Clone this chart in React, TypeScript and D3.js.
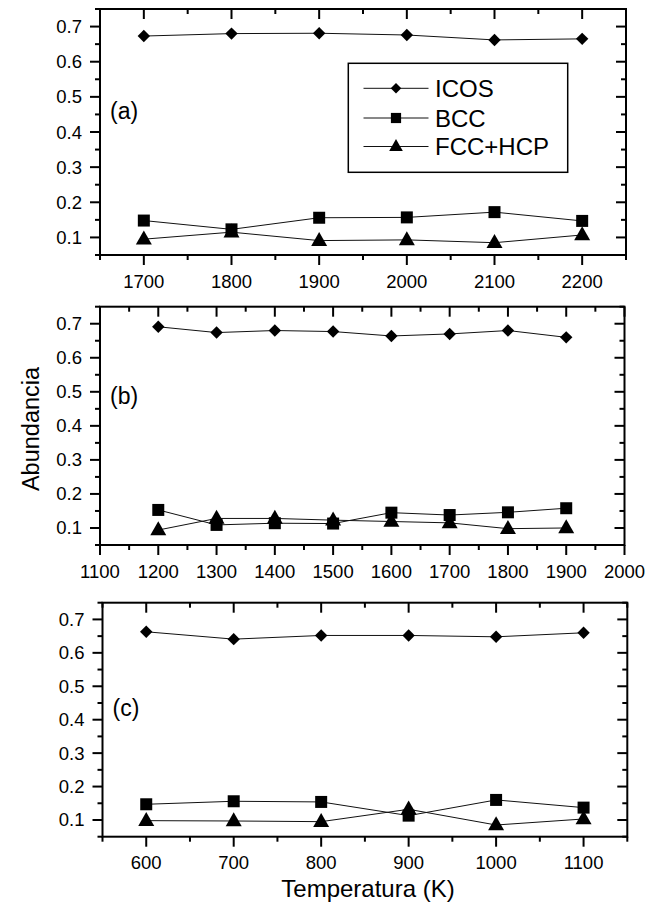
import React from 'react';
import * as d3 from 'd3';

// ---------- data ----------
const seriesNames = ['ICOS', 'BCC', 'FCC+HCP'];

const tempsA = [1700, 1800, 1900, 2000, 2100, 2200];
const icosA = [0.673, 0.680, 0.681, 0.676, 0.662, 0.665];
const bccA = [0.148, 0.123, 0.156, 0.157, 0.172, 0.147];
const fccA = [0.095, 0.115, 0.091, 0.093, 0.085, 0.107];

const tempsB = [1200, 1300, 1400, 1500, 1600, 1700, 1800, 1900];
const icosB = [0.691, 0.674, 0.680, 0.677, 0.664, 0.670, 0.680, 0.660];
const bccB = [0.153, 0.109, 0.114, 0.113, 0.145, 0.138, 0.146, 0.158];
const fccB = [0.094, 0.128, 0.128, 0.123, 0.119, 0.115, 0.098, 0.100];

const tempsC = [600, 700, 800, 900, 1000, 1100];
const icosC = [0.663, 0.641, 0.652, 0.652, 0.648, 0.660];
const bccC = [0.147, 0.156, 0.154, 0.113, 0.160, 0.137];
const fccC = [0.098, 0.097, 0.095, 0.132, 0.085, 0.103];

const xDomainA = [1650, 2250];
const xTicksA = [1700, 1800, 1900, 2000, 2100, 2200];
const xDomainB = [1100, 2000];
const xTicksB = [1100, 1200, 1300, 1400, 1500, 1600, 1700, 1800, 1900, 2000];
const xDomainC = [550, 1150];
const xTicksC = [600, 700, 800, 900, 1000, 1100];
const yDomain = [0.05, 0.75];
const yTicks = [0.1, 0.2, 0.3, 0.4, 0.5, 0.6, 0.7];

const panelLabels = ['(a)', '(b)', '(c)'];
const yTitle = 'Abundancia';
const xTitle = 'Temperatura (K)';

// ---------- layout ----------
const W = 647;
const H = 903;
const FONT = '"Liberation Sans", Arial, Helvetica, sans-serif';

const panels = [
  { left: 100, right: 626, top: 9, bottom: 255, xDomain: xDomainA, xTicks: xTicksA, temps: tempsA, series: [icosA, bccA, fccA], label: panelLabels[0], labelY: 118.5 },
  { left: 100, right: 624.5, top: 306.7, bottom: 545, xDomain: xDomainB, xTicks: xTicksB, temps: tempsB, series: [icosB, bccB, fccB], label: panelLabels[1], labelY: 403.5 },
  { left: 102.5, right: 627.3, top: 602.7, bottom: 836.7, xDomain: xDomainC, xTicks: xTicksC, temps: tempsC, series: [icosC, bccC, fccC], label: panelLabels[2], labelY: 715.5 },
];

const markerTypes = ['diamond', 'square', 'triangle'];

function markerPath(type: string, scale: number) {
  if (type === 'diamond') {
    const r = 6.2 * scale;
    return `M0,${-r}L${r},0L0,${r}L${-r},0Z`;
  }
  if (type === 'square') {
    const h = 6 * scale;
    return `M${-h},${-h}H${h}V${h}H${-h}Z`;
  }
  const w = 8 * scale;
  const ht = 14 * scale;
  const top = -0.62 * ht;
  const bot = 0.38 * ht;
  return `M0,${top}L${w},${bot}L${-w},${bot}Z`;
}

function Panel({ p }: { p: any }) {
  const x = d3.scaleLinear().domain(p.xDomain).range([p.left, p.right]);
  const y = d3.scaleLinear().domain(yDomain).range([p.bottom, p.top]);
  const xStep = p.xTicks[1] - p.xTicks[0];
  const xMinor = d3.range(p.xDomain[0], p.xDomain[1] + 1e-6, xStep / 2).filter(
    (v) => !p.xTicks.some((t: number) => Math.abs(t - v) < 1e-6)
  );
  const yMinor = d3.range(0, 15).map((i) => yDomain[0] + i * 0.05).filter(
    (v) => !yTicks.some((t) => Math.abs(t - v) < 1e-6) && v <= yDomain[1] + 1e-6
  );
  const line = d3
    .line<number>()
    .x((_, i) => x(p.temps[i]))
    .y((d) => y(d));
  const MAJ = 10;
  const MIN = 5;
  const tk = { stroke: '#000', strokeWidth: 2 };
  return (
    <g>
      {/* data lines */}
      {p.series.map((s: number[], si: number) => (
        <path key={'l' + si} d={line(s) || ''} fill="none" stroke="#111" strokeWidth={1} />
      ))}
      {/* markers */}
      {p.series.map((s: number[], si: number) =>
        s.map((v, i) => (
          <path
            key={'m' + si + '-' + i}
            d={markerPath(markerTypes[si], 1)}
            transform={`translate(${x(p.temps[i])},${y(v)})`}
            fill="#000"
          />
        ))
      )}
      {/* frame */}
      <rect x={p.left} y={p.top} width={p.right - p.left} height={p.bottom - p.top} fill="none" stroke="#000" strokeWidth={2} />
      {/* x ticks bottom (out) and top (in) */}
      {p.xTicks.map((t: number) => (
        <g key={'xt' + t}>
          <line x1={x(t)} x2={x(t)} y1={p.bottom} y2={p.bottom + MAJ} {...tk} />
          <line x1={x(t)} x2={x(t)} y1={p.top} y2={p.top + MAJ} {...tk} />
          <text x={x(t)} y={p.bottom + 32.5} textAnchor="middle" fontSize={18.5} fontFamily={FONT}>
            {t}
          </text>
        </g>
      ))}
      {xMinor.map((t: number) => (
        <g key={'xm' + t}>
          <line x1={x(t)} x2={x(t)} y1={p.bottom} y2={p.bottom + MIN} {...tk} />
          <line x1={x(t)} x2={x(t)} y1={p.top} y2={p.top + MIN} {...tk} />
        </g>
      ))}
      {/* y ticks left (out) and right (in) */}
      {yTicks.map((t) => (
        <g key={'yt' + t}>
          <line x1={p.left - MAJ} x2={p.left} y1={y(t)} y2={y(t)} {...tk} />
          <line x1={p.right - MAJ} x2={p.right} y1={y(t)} y2={y(t)} {...tk} />
          <text x={p.left - 18} y={y(t) + 6.5} textAnchor="end" fontSize={18.5} fontFamily={FONT}>
            {d3.format('.1f')(t)}
          </text>
        </g>
      ))}
      {yMinor.map((t) => (
        <g key={'ym' + t}>
          <line x1={p.left - MIN} x2={p.left} y1={y(t)} y2={y(t)} {...tk} />
          <line x1={p.right - MIN} x2={p.right} y1={y(t)} y2={y(t)} {...tk} />
        </g>
      ))}
      <text x={p.left + 10} y={p.labelY} fontSize={23} fontFamily={FONT}>
        {p.label}
      </text>
    </g>
  );
}

function Legend() {
  const lx = 348.3;
  const ly = 63.3;
  const lw = 219.4;
  const lh = 109;
  const rows = [88.3, 118, 146.5];
  return (
    <g>
      <rect x={lx} y={ly} width={lw} height={lh} fill="#fff" stroke="#000" strokeWidth={1.5} />
      {seriesNames.map((n, i) => (
        <g key={n}>
          <line x1={363.5} x2={428.5} y1={rows[i]} y2={rows[i]} stroke="#111" strokeWidth={1} />
          <path d={markerPath(markerTypes[i], 0.85)} transform={`translate(396,${rows[i]})`} fill="#000" />
          <text x={435} y={rows[i] + 8.5} fontSize={24} fontFamily={FONT}>
            {n}
          </text>
        </g>
      ))}
    </g>
  );
}

export default function App() {
  return (
    <svg
      width={W}
      height={H}
      viewBox={`0 0 ${W} ${H}`}
      style={{ position: 'absolute', left: 0, top: 0, background: '#fff' }}
    >
      <rect x={0} y={0} width={W} height={H} fill="#fff" />
      {panels.map((p, i) => (
        <Panel key={i} p={p} />
      ))}
      <Legend />
      <text
        transform="translate(38.5,429) rotate(-90)"
        textAnchor="middle"
        fontSize={23.5}
        fontFamily={FONT}
      >
        {yTitle}
      </text>
      <text x={368} y={897} textAnchor="middle" fontSize={24} fontFamily={FONT}>
        {xTitle}
      </text>
    </svg>
  );
}
